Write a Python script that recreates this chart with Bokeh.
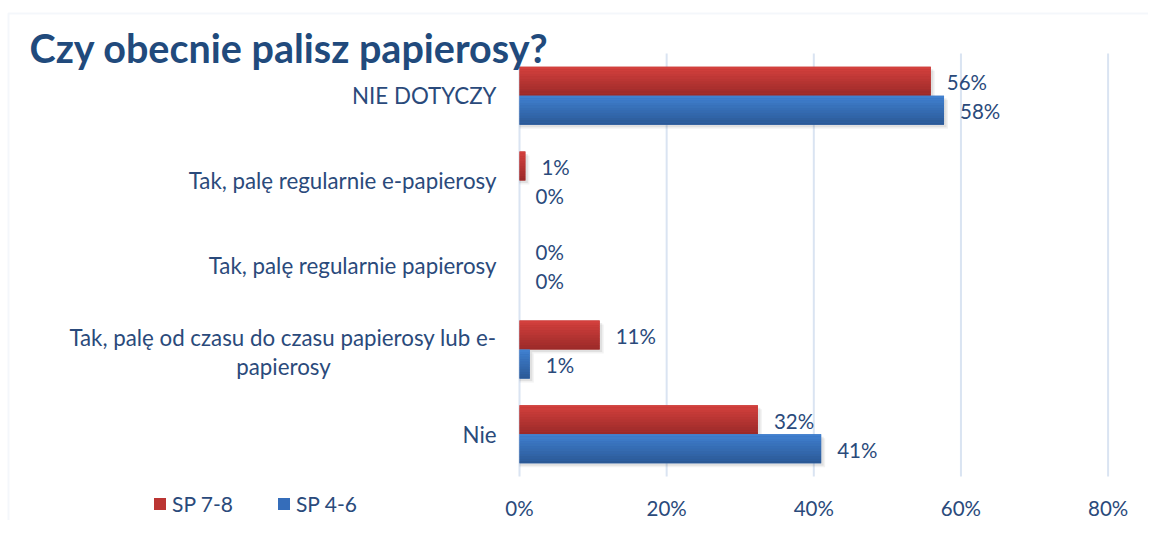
from bokeh.plotting import figure
from bokeh.models import Range1d, Label, Legend, LegendItem, ColumnDataSource, BoxAnnotation
from bokeh.core.properties import value
from bokeh.embed import file_html
from bokeh.resources import INLINE

# ---------------- data ----------------
title_text = "Czy obecnie palisz papierosy?"
categories = [
    "NIE DOTYCZY",
    "Tak, palę regularnie e-papierosy",
    "Tak, palę regularnie papierosy",
    "Tak, palę od czasu do czasu papierosy lub e-\npapierosy",
    "Nie",
]
series_names = ["SP 7-8", "SP 4-6"]
sp78 = [55.9, 0.8, 0.0, 10.9, 32.4]
sp46 = [57.7, 0.0, 0.0, 1.4, 41.0]
x_ticks = [0, 20, 40, 60, 80]
x_tick_labels = ["0%", "20%", "40%", "60%", "80%"]

# ---------------- layout (pixels) ----------------
W, H = 1148, 520          # canvas
X0 = 519                  # canvas x of 0 %
PX = 588.6 / 80           # pixels per percent
Y_TOP = 53                # canvas y of plot-area top
CAT = 84.6                # pixels per category band
n = len(categories)

x_start = -X0 / PX
x_end = (W - X0) / PX
y_end = (n - 0.5) + Y_TOP / CAT
y_start = -0.5 - (H - Y_TOP - n * CAT) / CAT

FONT = "Lato"
TXT = "#2a4a7b"
GRID = "#dae4f2"
red_top, red_mid, red_bot = (0xD3, 0x40, 0x3D), "#bb3533", (0x9B, 0x2A, 0x29)
blue_top, blue_mid, blue_bot = (0x40, 0x80, 0xCF), "#356dba", (0x2B, 0x59, 0x96)

p = figure(width=W, height=H, x_range=Range1d(x_start, x_end), y_range=Range1d(y_start, y_end),
           output_backend="svg", toolbar_location=None,
           x_axis_location=None, y_axis_location=None,
           min_border=0, min_border_left=0, min_border_right=0,
           min_border_top=0, min_border_bottom=0)
p.outline_line_color = None
p.grid.visible = False
p.background_fill_color = "white"
p.border_fill_color = "white"

# outer frame (top and left edges visible)
p.add_layout(BoxAnnotation(left=x_start + 8 / PX, right=x_end + 50,
                           top=y_end - 13 / CAT, bottom=y_start - 5,
                           fill_alpha=0, line_color="#dbe5f1", line_width=2))

ypos = [n - 1 - k for k in range(n)]

# grid lines
p.segment(x0=x_ticks, x1=x_ticks, y0=[-0.5] * len(x_ticks), y1=[n - 0.5] * len(x_ticks),
          line_color=GRID, line_width=2)

bar_h = 29 / CAT
nslices = 12


def mix(a, b, t):
    return "#%02x%02x%02x" % tuple(int(round(a[k] + (b[k] - a[k]) * t)) for k in range(3))


series = (("sp78", sp78, bar_h / 2, red_top, red_mid, red_bot, series_names[0]),
          ("sp46", sp46, -bar_h / 2, blue_top, blue_mid, blue_bot, series_names[1]))

# soft shadows
for col, vals, off, *_ in series:
    for d, a in ((4, 0.05), (2.5, 0.07)):
        p.hbar(y=[v + off - d / CAT for v in ypos], left=0,
               right=[v + d / PX if v > 0 else 0 for v in vals], height=bar_h,
               fill_color="#000000", fill_alpha=a, line_color=None)

legend_items = []
for col, vals, off, ctop, cmid, cbot, name in series:
    yc = [v + off for v in ypos]
    s = ColumnDataSource(dict(y=yc, v=vals, t=[f"{round(v)}%" for v in vals]))
    base = p.hbar(y="y", left=0, right="v", height=bar_h, source=s,
                  fill_color=cmid, line_color=None)
    for i in range(nslices):
        c = mix(ctop, cbot, i / (nslices - 1))
        ys = [v + bar_h / 2 - (i + 0.5) * bar_h / nslices for v in yc]
        p.hbar(y=ys, left=0, right=vals, height=bar_h / nslices,
               fill_color=c, line_color=None)
    legend_items.append(LegendItem(label=name, renderers=[base]))
    p.text(x="v", y="y", text="t", source=s,
           x_offset=16, y_offset=1, text_align="left", text_baseline="middle",
           text_font=value(FONT), text_font_size="20.5px", text_color=TXT)

# category labels: first line right-aligned, continuation lines centred under it
first_lines = [c.split("\n")[0] for c in categories]
multi = [("\n" in c) for c in categories]
p.text(x=[0] * n, y=ypos, text=first_lines, x_offset=-23,
       y_offset=[-12 if m else 0 for m in multi],
       text_align="right", text_baseline="middle",
       text_font=value(FONT), text_font_size="22.3px", text_color=TXT)
cont_y = [ypos[k] for k in range(n) if multi[k]]
cont_t = [categories[k].split("\n")[1] for k in range(n) if multi[k]]
p.text(x=[0] * len(cont_y), y=cont_y, text=cont_t, x_offset=-236, y_offset=17,
       text_align="center", text_baseline="middle",
       text_font=value(FONT), text_font_size="22.3px", text_color=TXT)

# x tick labels
p.text(x=x_ticks, y=[-0.5] * len(x_ticks), text=x_tick_labels, y_offset=31,
       text_align="center", text_baseline="middle",
       text_font=value(FONT), text_font_size="20.5px", text_color=TXT)

legend = Legend(items=legend_items, orientation="horizontal",
                location=(152, 4), padding=0, margin=0, spacing=43,
                glyph_width=15, glyph_height=15, label_standoff=5,
                label_text_font=FONT, label_text_font_size="21px",
                label_text_color=TXT, border_line_color=None,
                background_fill_alpha=0)
p.add_layout(legend, "center")

title = Label(x=29, y=H - 60 + 13, x_units="screen", y_units="screen", text=title_text,
              text_font=FONT, text_font_size="39.5px", text_font_style="bold",
              text_color="#214a7c", text_baseline="alphabetic", text_align="left")
p.add_layout(title)

open("out.html", "w").write(file_html(p, INLINE))
